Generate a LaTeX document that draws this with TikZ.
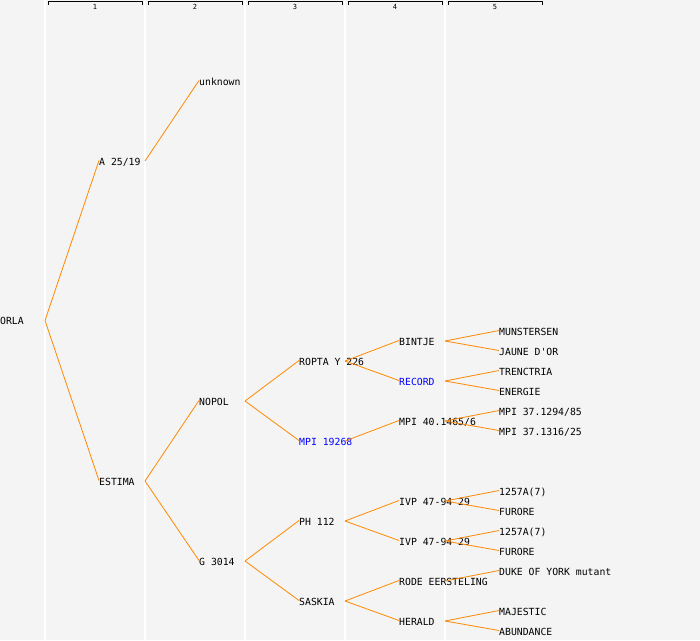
\documentclass[tikz,border=0pt]{standalone}
\usepackage{fontspec}
\setmonofont{DejaVu Sans Mono}
\definecolor{bg}{HTML}{F4F4F4}
\definecolor{edge}{HTML}{FF8800}
\definecolor{sel}{HTML}{0000FF}
\begin{document}
\begin{tikzpicture}[x=1pt,y=-1pt,
  lbl/.style={anchor=west,inner sep=0pt,text height=7pt,text depth=0pt,font=\ttfamily\fontsize{9.8}{10}\selectfont},
  blu/.style={lbl,text=sel},
  conn/.style={draw=edge,line width=0.8pt},
  col/.style={draw=white,line width=1.2pt},
  brk/.style={draw=black,line width=0.9pt},
  hdr/.style={inner sep=0pt,font=\ttfamily\fontsize{7}{7}\selectfont}]
\fill[bg] (0,0) rectangle (700,640);
\useasboundingbox (0,0) rectangle (700,640);
% column lines
\foreach \cx in {45,145,245,345,445} \draw[col] (\cx,0) -- (\cx,640);
% headers
\foreach \i in {1,...,5} {
  \pgfmathsetmacro{\xa}{48+100*(\i-1)}
  \pgfmathsetmacro{\xb}{142+100*(\i-1)}
  \pgfmathsetmacro{\xm}{95+100*(\i-1)}
  \draw[brk] (\xa,4.5) -- (\xa,1.5) -- (\xb,1.5) -- (\xb,4.5);
  \node[hdr] (h\i) at (\xm,6.5) {\i};
}
% level 0
\node[lbl] (orla) at (0,321) {ORLA};
% level 1
\node[lbl] (a2519) at (99,162) {A 25/19};
\node[lbl] (estima) at (99,482) {ESTIMA};
% level 2
\node[lbl] (unknown) at (199,82) {unknown};
\node[lbl] (nopol) at (199,402) {NOPOL};
\node[lbl] (g3014) at (199,562) {G 3014};
% level 3
\node[lbl] (ropta) at (299,362) {ROPTA Y 226};
\node[blu] (mpi19268) at (299,442) {MPI 19268};
\node[lbl] (ph112) at (299,522) {PH 112};
\node[lbl] (saskia) at (299,602) {SASKIA};
% level 4
\node[lbl] (bintje) at (399,342) {BINTJE};
\node[blu] (record) at (399,382) {RECORD};
\node[lbl] (mpi40) at (399,422) {MPI 40.1465/6};
\node[lbl] (ivpa) at (399,502) {IVP 47-94 29};
\node[lbl] (ivpb) at (399,542) {IVP 47-94 29};
\node[lbl] (rode) at (399,582) {RODE EERSTELING};
\node[lbl] (herald) at (399,622) {HERALD};
% level 5
\node[lbl] (munst) at (499,332) {MUNSTERSEN};
\node[lbl] (jaune) at (499,352) {JAUNE D'OR};
\node[lbl] (trenc) at (499,372) {TRENCTRIA};
\node[lbl] (energ) at (499,392) {ENERGIE};
\node[lbl] (mpi37a) at (499,412) {MPI 37.1294/85};
\node[lbl] (mpi37b) at (499,432) {MPI 37.1316/25};
\node[lbl] (c1257a) at (499,492) {1257A(7)};
\node[lbl] (furorea) at (499,512) {FURORE};
\node[lbl] (c1257b) at (499,532) {1257A(7)};
\node[lbl] (furoreb) at (499,552) {FURORE};
\node[lbl] (duke) at (499,572) {DUKE OF YORK mutant};
\node[lbl] (majes) at (499,612) {MAJESTIC};
\node[lbl] (abund) at (499,632) {ABUNDANCE};
% fork points
\coordinate (forla) at (45,320.5);
\coordinate (fa2519) at (145,161);
\coordinate (festima) at (145,481);
\coordinate (fnopol) at (245,401);
\coordinate (fg3014) at (245,561);
\coordinate (fropta) at (345,361);
\coordinate (fmpi19268) at (345,441);
\coordinate (fph112) at (345,521);
\coordinate (fsaskia) at (345,601);
\coordinate (fbintje) at (445,341);
\coordinate (frecord) at (445,381);
\coordinate (fmpi40) at (445,421);
\coordinate (fivpa) at (445,501);
\coordinate (fivpb) at (445,541);
\coordinate (frode) at (445,581);
\coordinate (fherald) at (445,621);
% connectors
\newcommand{\cn}[2]{\draw[conn] (#1) -- ([yshift=1.5pt]#2.west);}
\cn{forla}{a2519}\cn{forla}{estima}
\cn{fa2519}{unknown}
\cn{festima}{nopol}\cn{festima}{g3014}
\cn{fnopol}{ropta}\cn{fnopol}{mpi19268}
\cn{fg3014}{ph112}\cn{fg3014}{saskia}
\cn{fropta}{bintje}\cn{fropta}{record}
\cn{fmpi19268}{mpi40}
\cn{fph112}{ivpa}\cn{fph112}{ivpb}
\cn{fsaskia}{rode}\cn{fsaskia}{herald}
\cn{fbintje}{munst}\cn{fbintje}{jaune}
\cn{frecord}{trenc}\cn{frecord}{energ}
\cn{fmpi40}{mpi37a}\cn{fmpi40}{mpi37b}
\cn{fivpa}{c1257a}\cn{fivpa}{furorea}
\cn{fivpb}{c1257b}\cn{fivpb}{furoreb}
\cn{frode}{duke}
\cn{fherald}{majes}\cn{fherald}{abund}
\end{tikzpicture}
\end{document}
